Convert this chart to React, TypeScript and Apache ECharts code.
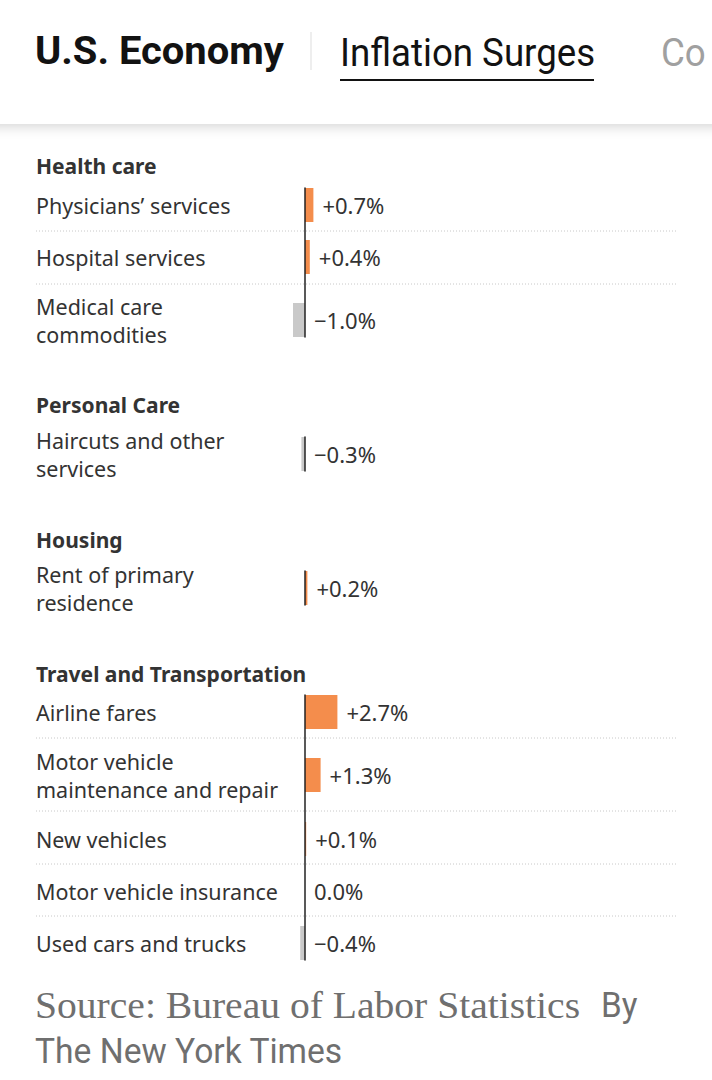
import React, { useEffect, useRef } from "react";
import * as echarts from "echarts";

const groupNames = ["Health care", "Personal Care", "Housing", "Travel and Transportation"];
const categories = [
  "Physicians’ services",
  "Hospital services",
  "Medical care\ncommodities",
  "Haircuts and other\nservices",
  "Rent of primary\nresidence",
  "Airline fares",
  "Motor vehicle\nmaintenance and repair",
  "New vehicles",
  "Motor vehicle insurance",
  "Used cars and trucks",
];
const values = [0.7, 0.4, -1.0, -0.3, 0.2, 2.7, 1.3, 0.1, 0.0, -0.4];
const groupOf = [0, 0, 0, 1, 2, 3, 3, 3, 3, 3];

// layout (pixels)
const rowCenters = [205, 257, 320, 454, 588, 712, 775, 839, 891, 943];
const headerCenters = [166, 405, 540, 674];
const separators = [231, 284, 738, 811, 864, 916];

const FONT = "'Noto Sans', 'Liberation Sans', sans-serif";
const ORANGE = "#F48D4C";
const GRAY = "#C9C9C9";
const TEXT = "#333333";
const BAR_H = 34;
const X_MIN = -5;
const X_MAX = 5;
const GRID_LEFT = 245;
const GRID_W = 120;

function fmt(v: number): string {
  if (v > 0) return "+" + v.toFixed(1) + "%";
  if (v < 0) return "\u2212" + Math.abs(v).toFixed(1) + "%";
  return "0.0%";
}

export default function App() {
  const ref = useRef<HTMLDivElement>(null);
  useEffect(() => {
    document.body.style.margin = "0";
    const chart = echarts.init(ref.current!, null, { renderer: "svg" });

    const grids: any[] = [];
    const xAxes: any[] = [];
    const yAxes: any[] = [];
    const series: any[] = [];

    categories.forEach((cat, i) => {
      const gi = grids.length;
      grids.push({ left: GRID_LEFT, width: GRID_W, top: rowCenters[i] - BAR_H / 2, height: BAR_H });
      xAxes.push({ gridIndex: gi, type: "value", min: X_MIN, max: X_MAX, show: false });
      yAxes.push({
        gridIndex: gi,
        type: "category",
        data: [cat],
        axisLine: { show: false, onZero: false },
        axisTick: { show: false },
        splitLine: { show: false },
        axisLabel: {
          align: "left",
          margin: GRID_LEFT - 36,
          color: TEXT,
          fontFamily: FONT,
          fontSize: 21.5,
          lineHeight: 28,
        },
      });
      const v = values[i];
      series.push({
        type: "bar",
        xAxisIndex: gi,
        yAxisIndex: gi,
        barWidth: BAR_H,
        data: [
          {
            value: v,
            itemStyle: { color: v >= 0 ? ORANGE : GRAY },
          },
        ],
        label: {
          show: true,
          position: "right",
          distance: 9,
          color: TEXT,
          fontFamily: FONT,
          fontSize: 22,
          formatter: () => fmt(v),
        },
      });
    });

    // frame grids for zero lines (one per group)
    groupNames.forEach((_, g) => {
      const idx = groupOf.map((gg, i) => (gg === g ? i : -1)).filter((i) => i >= 0);
      const top = rowCenters[idx[0]] - BAR_H / 2;
      const bottom = rowCenters[idx[idx.length - 1]] + BAR_H / 2;
      const gi = grids.length;
      grids.push({ left: GRID_LEFT, width: GRID_W, top, height: bottom - top });
      xAxes.push({ gridIndex: gi, type: "value", min: X_MIN, max: X_MAX, show: false });
      yAxes.push({
        gridIndex: gi,
        type: "value",
        min: 0,
        max: 1,
        z: 10,
        axisLine: { show: true, onZero: true, lineStyle: { color: "#222", width: 1.5 } },
        axisTick: { show: false },
        axisLabel: { show: false },
        splitLine: { show: false },
      });
    });

    const graphics: any[] = [
      {
        type: "rect",
        z: -1,
        shape: { x: -20, y: -20, width: 760, height: 144 },
        style: { fill: "#fff", shadowBlur: 12, shadowOffsetY: 3, shadowColor: "rgba(0,0,0,0.16)" },
      },
      {
        type: "text",
        x: 35,
        y: 51,
        scaleX: 1.05,
        style: {
          text: "U.S. Economy",
          fontFamily: "Roboto, 'Liberation Sans', sans-serif",
          fontWeight: "bold",
          fontSize: 38,
          fill: "#121212",
          verticalAlign: "middle",
        },
      },
      {
        type: "line",
        shape: { x1: 311, y1: 32, x2: 311, y2: 70 },
        style: { stroke: "#dddddd", lineWidth: 1 },
      },
      {
        type: "text",
        x: 340,
        y: 53,
        scaleX: 0.965,
        style: {
          text: "Inflation Surges",
          fontFamily: "Roboto, 'Liberation Sans', sans-serif",
          fontSize: 38,
          fill: "#121212",
          verticalAlign: "middle",
        },
      },
      {
        type: "line",
        shape: { x1: 340, y1: 80, x2: 594, y2: 80 },
        style: { stroke: "#121212", lineWidth: 2 },
      },
      {
        type: "text",
        x: 661,
        y: 53,
        scaleX: 0.965,
        style: {
          text: "Co",
          fontFamily: "Roboto, 'Liberation Sans', sans-serif",
          fontSize: 38,
          fill: "#a0a0a0",
          verticalAlign: "middle",
        },
      },
    ];

    groupNames.forEach((name, g) => {
      graphics.push({
        type: "text",
        x: 36,
        y: headerCenters[g],
        style: {
          text: name,
          fontFamily: FONT,
          fontWeight: "bold",
          fontSize: 21,
          fill: TEXT,
          verticalAlign: "middle",
        },
      });
    });

    separators.forEach((y) => {
      graphics.push({
        type: "line",
        shape: { x1: 36, y1: y, x2: 677, y2: y },
        style: { stroke: "#c8c8c8", lineWidth: 1, lineDash: [1, 2] },
      });
    });

    graphics.push(
      {
        type: "text",
        x: 35,
        y: 1005,
        scaleX: 1.07,
        style: {
          text: "Source: Bureau of Labor Statistics",
          fontFamily: "'Liberation Serif', 'DejaVu Serif', serif",
          fontSize: 37,
          fill: "#6f6f6f",
          verticalAlign: "middle",
        },
      },
      {
        type: "text",
        x: 601,
        y: 1005,
        scaleX: 0.95,
        style: {
          text: "By",
          fontFamily: "Roboto, 'Liberation Sans', sans-serif",
          fontSize: 35,
          fill: "#6f6f6f",
          verticalAlign: "middle",
        },
      },
      {
        type: "text",
        x: 35,
        y: 1051,
        scaleX: 0.96,
        style: {
          text: "The New York Times",
          fontFamily: "Roboto, 'Liberation Sans', sans-serif",
          fontSize: 35,
          fill: "#6f6f6f",
          verticalAlign: "middle",
        },
      }
    );

    chart.setOption({
      animation: false,
      backgroundColor: "#ffffff",
      grid: grids,
      xAxis: xAxes,
      yAxis: yAxes,
      series,
      graphic: graphics,
    });
    return () => chart.dispose();
  }, []);
  return <div ref={ref} style={{ width: 712, height: 1080 }} />;
}
